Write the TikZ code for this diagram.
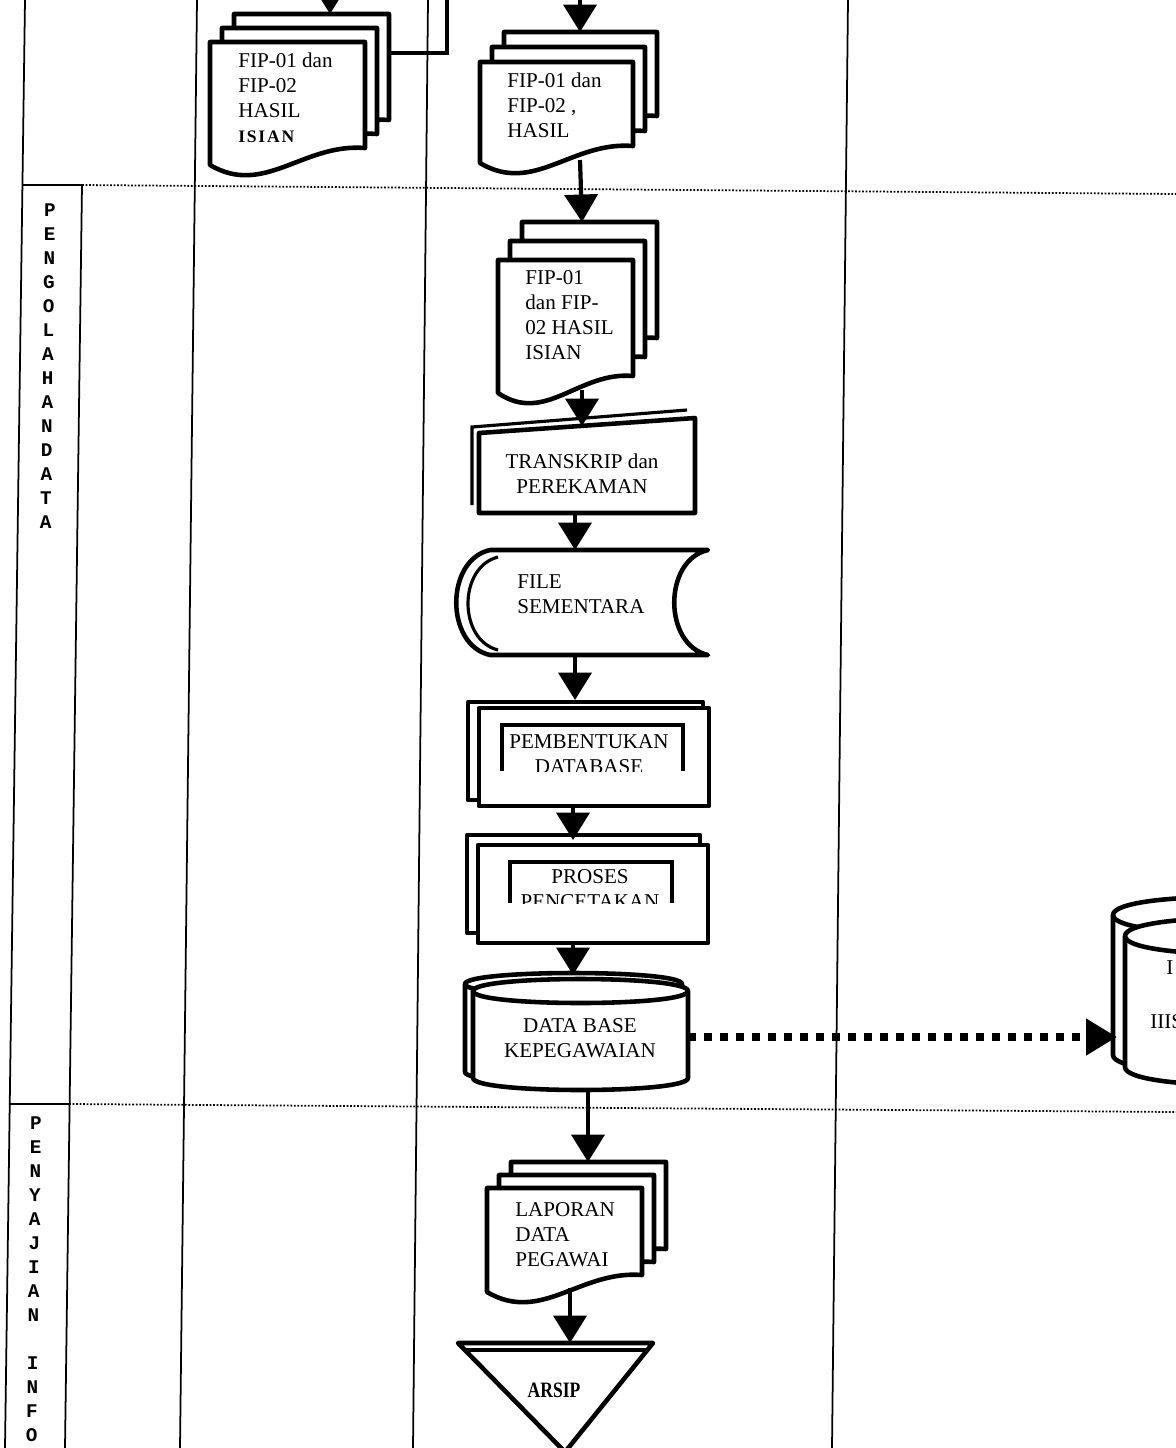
\documentclass[tikz,border=0pt]{standalone}
\usepackage{fontspec}
\usepackage{graphicx}
\setmainfont{Liberation Serif}
\setmonofont{Liberation Mono}
\usetikzlibrary{arrows.meta}
\tikzset{
	shapeline/.style={line width=2.6pt, line join=round},
	backline/.style ={line width=1.8pt},
	laneline/.style ={line width=1pt},
	lanedots/.style ={line width=1pt, densely dotted},
	flowarrow/.style={-{Triangle[length=0.55cm,width=0.66cm]}, line width=2.4pt},
	dotflow/.style  ={-{Triangle[length=0.62cm,width=0.7cm]}, line width=4.5pt, dash pattern=on 0.16cm off 0.16cm},
	doctext/.style  ={anchor=west, align=left, inner sep=0pt, font=\fontsize{12}{14.2}\selectfont},
	boxtext/.style  ={align=center, inner sep=0pt, font=\fontsize{12}{14.2}\selectfont},
	lanechar/.style ={inner sep=0pt, font=\ttfamily\bfseries\fontsize{11}{11}\selectfont},
}
% one sheet with wavy bottom: x1, y1, x2, y of lower left corner
\newcommand{\docpage}[4]{%
	\filldraw[shapeline, fill=white] ({#1},{#2}) -- ({#3},{#2}) -- ({#3},{(#4)-17})
		.. controls ({(#3)-0.4*((#3)-(#1))},{(#4)-22}) and ({(#1)+0.35*((#3)-(#1))},{(#4)+32}) .. ({#1},{#4}) -- cycle;}
% three sheets, back to front
\newcommand{\docstack}[5]{%
	\docpage{(#1)+24}{(#2)-2*(#5)}{(#3)+24}{(#4)-2*(#5)}
	\docpage{(#1)+12}{(#2)-(#5)}{(#3)+12}{(#4)-(#5)}
	\docpage{#1}{#2}{#3}{#4}}
% drum: x1, x2, y top, y bottom, y radius
\newcommand{\drumshape}[5]{%
	\filldraw[shapeline, fill=white] ({#1},{#3}) -- ({#1},{#4}) .. controls ({#1},{(#4)+1.333*(#5)}) and ({#2},{(#4)+1.333*(#5)}) .. ({#2},{#4})
		-- ({#2},{#3}) .. controls ({#2},{(#3)-1.333*(#5)}) and ({#1},{(#3)-1.333*(#5)}) .. ({#1},{#3}) -- cycle;
	\draw[shapeline] ({#1},{#3}) .. controls ({#1},{(#3)+1.333*(#5)}) and ({#2},{(#3)+1.333*(#5)}) .. ({#2},{#3});}

\begin{document}
\begin{tikzpicture}[x=0.02cm, y=-0.02cm]
	\useasboundingbox (0,0) rectangle (1176,1448);
	\clip (0,0) rectangle (1176,1448);
	\fill[white] (0,0) rectangle (1176,1448);
	% ---------- lanes ----------
	\draw[laneline] (25,0) -- (5,1448);
	\draw[laneline] (82,185) -- (65,1448);
	\draw[laneline] (197,0) -- (180,1448);
	\draw[laneline] (428,0) -- (413,1448);
	\draw[laneline] (848,0) -- (832,1448);
	\draw[laneline] (22,185) -- (82,185);
	\draw[laneline] (10,1104) -- (69,1104);
	\draw[lanedots] (82,185) -- (1176,194);
	\draw[lanedots] (69,1104) -- (1176,1112);
	\foreach \ch [count=\i] in {P,E,N,G,O,L,A,H,A,N,D,A,T,A}
		\node[lanechar] (pd\i) at ({50-0.0138*24*(\i-1)},{210+24*(\i-1)}) {\ch};
	\foreach \ch [count=\i] in {P,E,N,Y,A,J,I,A,N,{},I,N,F,O}
		\node[lanechar] (pi\i) at ({36-0.0138*24*(\i-1)},{1123+24*(\i-1)}) {\ch};
	% ---------- input lane ----------
	\docstack{210}{42}{365}{165}{14}
	\node[doctext] (fipA) at (238,98) {FIP-01 dan\\FIP-02\\HASIL\\{\fontsize{10}{12}\selectfont\bfseries\addfontfeature{LetterSpace=10}ISIAN}};
	\coordinate (inA) at (330,-40);
	\coordinate (fipA-n) at (330,14);
	\coordinate (fipA-e) at (389,53);
	\coordinate (outA) at (447,-10);
	\draw[flowarrow] (inA) -- (fipA-n);
	\draw[line width=2.2pt] (fipA-e) -| (outA);
	\docstack{480}{62}{633}{163}{15}
	\node[doctext] (fipB) at (507,105) {FIP-01 dan\\FIP-02 ,\\HASIL};
	\coordinate (inB) at (580,-40);
	\coordinate (fipB-n) at (580,32);
	\coordinate (fipB-s) at (580,160);
	\draw[flowarrow] (inB) -- (fipB-n);
	% ---------- data processing lane ----------
	\docstack{498}{260}{633}{393}{19}
	\node[doctext] (fipC) at (525,315) {FIP-01\\dan FIP-\\02 HASIL\\ISIAN};
	\coordinate (fipC-n) at (582,222);
	\coordinate (fipC-s) at (582,390);
	\draw[flowarrow] (fipB-s) -- (fipC-n);
	% manual input
	\draw[backline] (472,505) -- (472,427) -- (687,410);
	\filldraw[shapeline, fill=white] (479,433) -- (695,418) -- (695,513) -- (479,513) -- cycle;
	\node[boxtext] (trk) at (582,474) {TRANSKRIP dan\\PEREKAMAN};
	\coordinate (trk-n) at (582,426);
	\coordinate (trk-s) at (575,513);
	\draw[flowarrow] (fipC-s) -- (trk-n);
	% stored data
	\filldraw[shapeline, fill=white] (490,550) -- (708,550) .. controls (663,560) and (663,645) .. (708,655)
		-- (490,655) .. controls (445,645) and (445,560) .. (490,550) -- cycle;
	\draw[backline] (498,557) .. controls (458,567) and (458,640) .. (498,650);
	\node[doctext] (fsm) at (517,594) {FILE\\SEMENTARA};
	\coordinate (fsm-n) at (575,550);
	\coordinate (fsm-s) at (575,655);
	\draw[flowarrow] (trk-s) -- (fsm-n);
	% process boxes
	\draw[shapeline] (468,702) rectangle (703,800);
	\filldraw[shapeline, fill=white] (479,708) rectangle (709,806);
	\begin{scope}
		\clip (502,720) rectangle (683,771);
		\node[boxtext] (pbd) at (589,754) {PEMBENTUKAN\\DATABASE};
	\end{scope}
	\draw[line width=1.8pt] (502,771) -- (502,725) -- (683,725) -- (683,771);
	\coordinate (pbd-n) at (575,700);
	\coordinate (pbd-s) at (573,806);
	\draw[flowarrow] (fsm-s) -- (pbd-n);
	\draw[shapeline] (467,835) rectangle (700,933);
	\filldraw[shapeline, fill=white] (478,845) rectangle (708,943);
	\begin{scope}
		\clip (510,855) rectangle (672,903);
		\node[boxtext] (pcp) at (590,889) {PROSES\\PENCETAKAN};
	\end{scope}
	\draw[line width=1.8pt] (510,903) -- (510,862) -- (672,862) -- (672,903);
	\coordinate (pcp-n) at (573,840);
	\coordinate (pcp-s) at (573,943);
	\draw[flowarrow] (pbd-s) -- (pcp-n);
	% database
	\drumshape{465}{682}{984}{1072}{11}
	\drumshape{473}{688}{991}{1078}{12}
	\node[boxtext] (dbk) at (580,1038) {DATA BASE\\KEPEGAWAIAN};
	\coordinate (dbk-n) at (573,975);
	\coordinate (dbk-e) at (688,1037);
	\coordinate (dbk-s) at (588,1091);
	\draw[flowarrow] (pcp-s) -- (dbk-n);
	\drumshape{1113}{1330}{915}{1055}{18}
	\drumshape{1125}{1342}{936}{1067}{18}
	\node[doctext] (iisA) at (1166,968) {I};
	\node[doctext] (iisB) at (1150,1022) {IIIS};
	\coordinate (iis-w) at (1117,1037);
	\draw[dotflow] (dbk-e) -- (iis-w);
	% ---------- information lane ----------
	\docstack{487}{1188}{642}{1292}{13}
	\node[doctext] (lap) at (515,1235) {LAPORAN\\DATA\\PEGAWAI};
	\coordinate (lap-n) at (588,1162);
	\coordinate (lap-s) at (570,1288);
	\draw[flowarrow] (dbk-s) -- (lap-n);
	% archive
	\filldraw[shapeline, fill=white] (458,1343) -- (653,1343) -- (565,1452) -- cycle;
	\draw[backline] (465,1350) -- (647,1350);
	\node[inner sep=0pt, font=\bfseries\fontsize{12.5}{14}\selectfont] (arsip) at (554,1390) {\scalebox{0.8}[1]{ARSIP}};
	\coordinate (arsip-n) at (570,1343);
	\draw[flowarrow] (lap-s) -- (arsip-n);
\end{tikzpicture}
\end{document}
